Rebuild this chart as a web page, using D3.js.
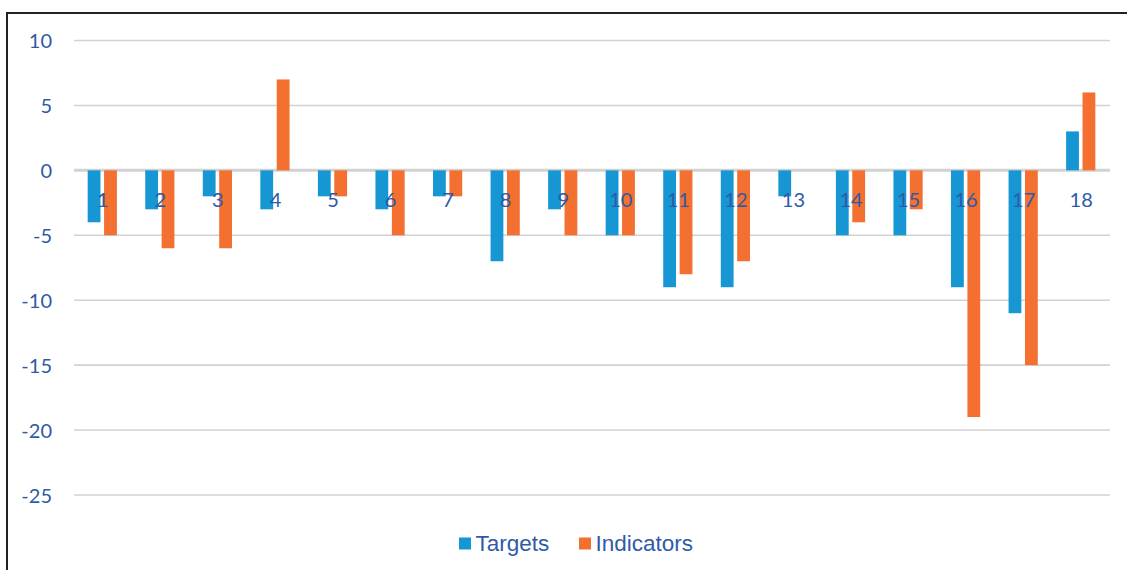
<!DOCTYPE html>
<html><head><meta charset="utf-8">
<script src="https://cdn.jsdelivr.net/npm/d3@7"></script>
<style>body{margin:0;background:#fff}svg{display:block}</style>
</head><body>
<svg id="chart" width="1127" height="570"></svg>
<script>
const categories = ["1","2","3","4","5","6","7","8","9","10","11","12","13","14","15","16","17","18"];
const targets    = [-4,-3,-2,-3,-2,-3,-2,-7,-3,-5,-9,-9,-2,-5,-5,-9,-11,3];
const indicators = [-5,-6,-6,7,-2,-5,-2,-5,-5,-5,-8,-7,0,-4,-3,-19,-15,6];
const yTicks = [10,5,0,-5,-10,-15,-20,-25];
const seriesNames = ["Targets","Indicators"];
const colors = ["#1697d4","#f37030"];
const textColor = "#2f5aa8";

const svg = d3.select("#chart");
svg.append("rect").attr("x",7).attr("y",13).attr("width",1130).attr("height",570)
  .attr("fill","none").attr("stroke","#222").attr("stroke-width",2);

const x0 = d3.scaleBand().domain(categories).range([74,1110]);
const y = d3.scaleLinear().domain([-25,10]).range([495,40.5]);

// gridlines
svg.append("g").selectAll("line").data(yTicks).join("line")
  .attr("x1",74).attr("x2",1110)
  .attr("y1",d=>y(d)).attr("y2",d=>y(d))
  .attr("stroke","#d2d2d2").attr("stroke-width",d=>d===0?3:1.6);

// y axis labels
const yAxis = d3.axisLeft(y).tickValues(yTicks).tickSize(0).tickPadding(0).tickFormat(d=>String(d));
const ga = svg.append("g").attr("transform","translate(52,0)").call(yAxis);
ga.select(".domain").remove();
ga.selectAll("text").attr("fill",textColor).style("font-family","Lato, sans-serif").style("font-size","20px").attr("dy","0.35em");

const data = categories.map((c,i)=>({c, vals:[targets[i],indicators[i]]}));
const barW = 12.8, gap = 3.6;
const g = svg.append("g");
data.forEach(d=>{
  const cx = x0(d.c) + x0.bandwidth()/2 - 0.5;
  d.vals.forEach((v,j)=>{
    if (v===0) return;
    const bx = j===0 ? cx - gap/2 - barW : cx + gap/2;
    g.append("rect").attr("x",bx).attr("width",barW)
      .attr("y",Math.min(y(v),y(0))).attr("height",Math.abs(y(v)-y(0)))
      .attr("fill",colors[j]);
  });
});

// category labels
svg.append("g").selectAll("text").data(categories).join("text")
  .attr("x",d=>x0(d)+x0.bandwidth()/2).attr("y",200)
  .attr("text-anchor","middle").attr("dy","0.35em")
  .attr("fill",textColor).style("font-family","Lato, sans-serif").style("font-size","20px")
  .text(d=>d);

// legend
const lg = svg.append("g");
const legendX = [459,579];
seriesNames.forEach((n,i)=>{
  lg.append("rect").attr("x",legendX[i]).attr("y",537.5).attr("width",12).attr("height",12).attr("fill",colors[i]);
  lg.append("text").attr("x",legendX[i]+16.5).attr("y",543.5).attr("dy","0.35em")
    .attr("fill",textColor).style("font-family","'Liberation Sans', Arial, sans-serif").style("font-size","22.5px")
    .text(n);
});
</script>
</body></html>
